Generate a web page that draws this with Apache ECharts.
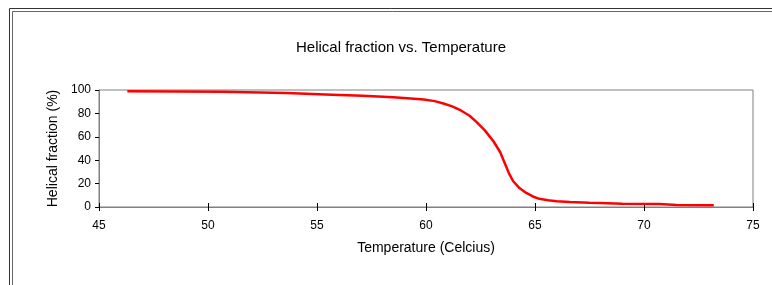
<!DOCTYPE html>
<html>
<head>
<meta charset="utf-8">
<script src="https://cdn.jsdelivr.net/npm/echarts@6/dist/echarts.min.js"></script>
<style>
  html, body { margin: 0; padding: 0; background: #fff; }
  #main { width: 772px; height: 285px; }
</style>
</head>
<body>
<div id="main"></div>
<script>
// temperature (Celcius) and helical fraction (%)
var temps = [46.3, 50.6, 53.6, 55.7, 57.1, 58.5, 59.3, 59.9, 60.4, 60.8, 61.2, 61.6, 62.0, 62.3, 62.7, 63.1, 63.4, 63.6, 63.8, 64.0, 64.3, 64.6, 64.9, 65.2, 65.6, 66.0, 66.6, 67.5, 68.0, 69.0, 70.7, 71.5, 73.2]
var helix = [99, 98.5, 97.5, 96, 95, 93.8, 92.8, 91.8, 90.5, 88.5, 86, 82.5, 78, 73, 65.5, 56, 47, 38, 29, 22, 16, 12, 9, 7, 5.8, 5, 4.3, 3.6, 3.4, 2.8, 2.5, 1.8, 1.5]
var xTicks = [45, 50, 55, 60, 65, 70, 75]
var yTicks = [0, 20, 40, 60, 80, 100]

var points = temps.map(function (t, i) { return [t, helix[i]] })

var myChart = echarts.init(document.getElementById('main'))
var font = 'Liberation Sans, Arial, sans-serif'
var option = {
  animation: false,
  backgroundColor: '#fff',
  title: {
    text: 'Helical fraction vs. Temperature',
    left: 396,
    top: 35,
    textAlign: 'center',
    textStyle: { fontFamily: font, fontSize: 15, fontWeight: 'normal', color: '#000' }
  },
  graphic: [
    { type: 'line', shape: { x1: 9.5, y1: 8.5, x2: 9.5, y2: 285 }, style: { stroke: '#333', lineWidth: 1 } },
    { type: 'line', shape: { x1: 12.5, y1: 11.5, x2: 12.5, y2: 285 }, style: { stroke: '#666', lineWidth: 1 } },
    { type: 'line', shape: { x1: 9.5, y1: 8.5, x2: 772, y2: 8.5 }, style: { stroke: '#333', lineWidth: 1 } },
    { type: 'line', shape: { x1: 12.5, y1: 11.5, x2: 772, y2: 11.5 }, style: { stroke: '#666', lineWidth: 1 } }
  ],
  grid: {
    left: 99,
    right: 19,
    top: 90,
    bottom: 78,
    show: true,
    borderColor: '#808080',
    borderWidth: 1
  },
  xAxis: [
    {
      type: 'value',
      min: xTicks[0],
      max: xTicks[xTicks.length - 1],
      interval: 5,
      name: 'Temperature (Celcius)',
      nameLocation: 'middle',
      nameGap: 34,
      nameTextStyle: { fontFamily: font, fontSize: 14, color: '#000' },
      axisLine: { show: true, lineStyle: { color: '#808080' } },
      axisTick: { show: true, length: 4, lineStyle: { color: '#000' } },
      axisLabel: { fontFamily: font, fontSize: 12, color: '#000', margin: 13 },
      splitLine: { show: false }
    },
    {
      type: 'value',
      position: 'bottom',
      min: xTicks[0],
      max: xTicks[xTicks.length - 1],
      interval: 5,
      axisLine: { show: false },
      axisTick: { show: true, inside: true, length: 4, lineStyle: { color: '#000' } },
      axisLabel: { show: false },
      splitLine: { show: false }
    }
  ],
  yAxis: {
    type: 'value',
    min: yTicks[0],
    max: yTicks[yTicks.length - 1],
    interval: 20,
    name: 'Helical fraction (%)',
    nameLocation: 'middle',
    nameGap: 39,
    nameTextStyle: { fontFamily: font, fontSize: 14, color: '#000' },
    axisLine: { show: true, lineStyle: { color: '#808080' } },
    axisTick: { show: true, length: 4, lineStyle: { color: '#000' } },
    axisLabel: { fontFamily: font, fontSize: 12, color: '#000', margin: 8 },
    splitLine: { show: false }
  },
  series: [
    {
      name: 'Helical fraction',
      type: 'line',
      data: points,
      showSymbol: false,
      lineStyle: { color: '#ff0000', width: 2.5 }
    }
  ]
}
myChart.setOption(option)
</script>
</body>
</html>
